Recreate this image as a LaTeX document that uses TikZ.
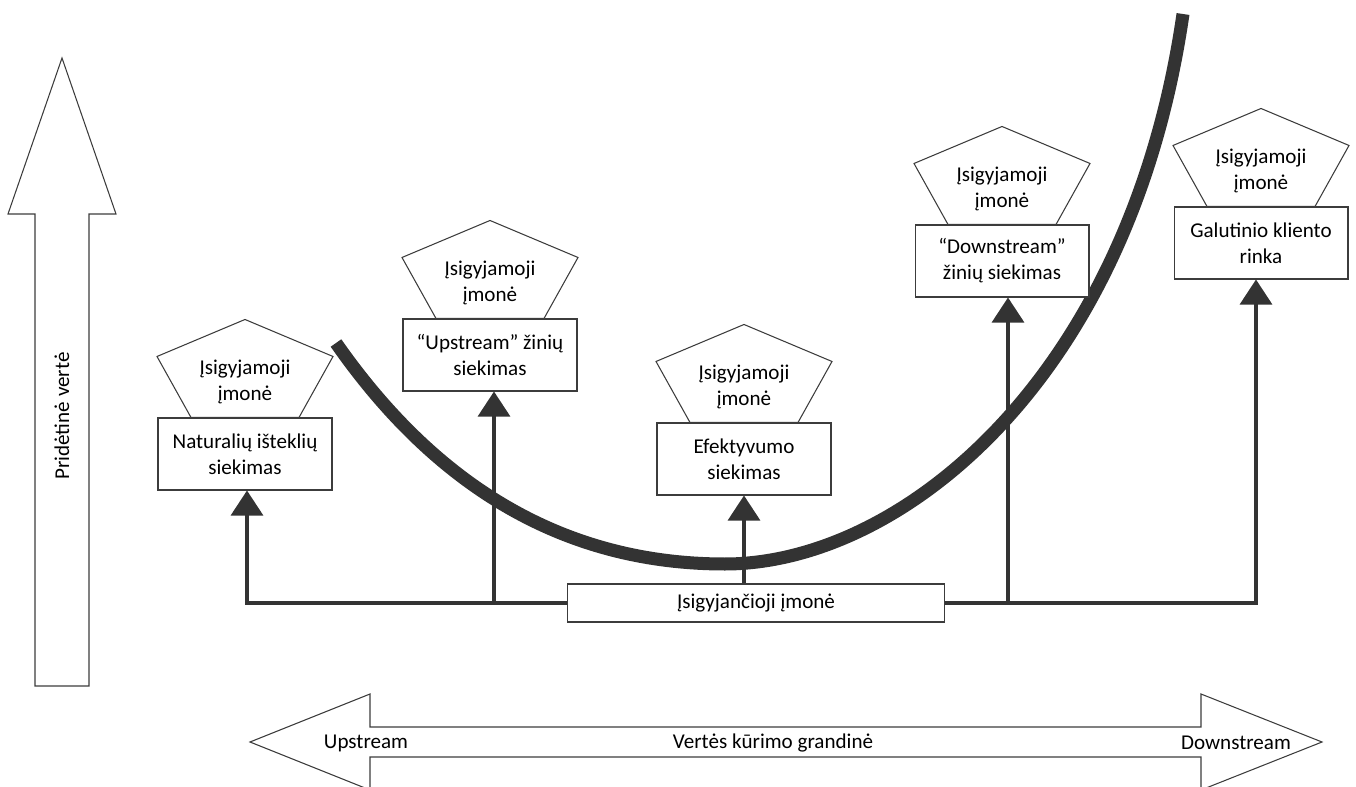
\documentclass[tikz,border=0pt]{standalone}
\usepackage{fontspec}
\setmainfont{Carlito}
\usetikzlibrary{arrows.meta,positioning,calc}
\definecolor{curvegray}{RGB}{51, 51, 51}
\definecolor{edgegray}{RGB}{60, 60, 60}

\begin{document}
\begin{tikzpicture}[
    x=0.02cm, y=-0.02cm,
    every node/.append style={font=\fontsize{12}{14.8}\selectfont, align=center},
    goal/.style={draw=edgegray, fill=white, line width=0.6pt, minimum width=3.48cm, minimum height=1.44cm, inner sep=2pt},
    hub/.style={draw=edgegray, fill=white, line width=0.6pt, minimum width=7.54cm, minimum height=0.76cm},
    penta/.style={draw=edgegray, fill=white, line width=0.6pt},
    bigarrow/.style={draw=edgegray, fill=white, line width=0.6pt},
    arrow/.style={-{Triangle[width=0.64cm, length=0.5cm]}, line width=1.8pt, curvegray},
    ucurve/.style={line width=7.4pt, curvegray}
]
    \useasboundingbox (0,0) rectangle (1356,787);

    % Axes - value and value chain
    \draw[bigarrow] (35,686) -- (35,214) -- (8,214) -- (62,58) -- (116,214) -- (89,214) -- (89,686) -- cycle;
    \node[rotate=90] (value) at (62,416) {Pridėtinė vertė};
    \draw[bigarrow] (250,742) -- (370,694) -- (370,727) -- (1201,727) -- (1201,694) -- (1322,742)
        -- (1201,790) -- (1201,757) -- (370,757) -- (370,790) -- cycle;
    \node (upstream) at (366,743) {Upstream};
    \node (chain) at (773,743) {Vertės kūrimo grandinė};
    \node (downstream) at (1236,743) {Downstream};

    % Smile curve
    \draw[ucurve] (336,343) .. controls (440,492) and (570,564) .. (725,564)
        .. controls (900,564) and (1130,380) .. (1183,14);

    % Nodes - goals
    \node[goal] (natural) at (245,454) {Naturalių išteklių\\siekimas};
    \node[goal] (upknow) at (490,355) {“Upstream” žinių\\siekimas};
    \node[goal] (effic) at (744,459) {Efektyvumo\\siekimas};
    \node[goal] (downknow) at (1002,261) {“Downstream”\\žinių siekimas};
    \node[goal] (market) at (1261,243) {Galutinio kliento\\rinka};

    % Pentagons - acquired companies
    \draw[penta] ($(natural.north)+(-54,0)$) -- ++(-34,-61) -- ++(88,-37) -- ++(88,37) -- ++(-34,61) -- cycle;
    \node (acq1) at ($(natural.north)+(0,-36)$) {Įsigyjamoji\\įmonė};
    \draw[penta] ($(upknow.north)+(-54,0)$) -- ++(-34,-61) -- ++(88,-37) -- ++(88,37) -- ++(-34,61) -- cycle;
    \node (acq2) at ($(upknow.north)+(0,-36)$) {Įsigyjamoji\\įmonė};
    \draw[penta] ($(effic.north)+(-54,0)$) -- ++(-34,-61) -- ++(88,-37) -- ++(88,37) -- ++(-34,61) -- cycle;
    \node (acq3) at ($(effic.north)+(0,-36)$) {Įsigyjamoji\\įmonė};
    \draw[penta] ($(downknow.north)+(-54,0)$) -- ++(-34,-61) -- ++(88,-37) -- ++(88,37) -- ++(-34,61) -- cycle;
    \node (acq4) at ($(downknow.north)+(0,-36)$) {Įsigyjamoji\\įmonė};
    \draw[penta] ($(market.north)+(-54,0)$) -- ++(-34,-61) -- ++(88,-37) -- ++(88,37) -- ++(-34,61) -- cycle;
    \node (acq5) at ($(market.north)+(0,-36)$) {Įsigyjamoji\\įmonė};

    % Acquiring company and arrows
    \node[hub] (hub) at (756,603) {Įsigyjančioji įmonė};
    \coordinate (b2) at (494,603);
    \coordinate (b4) at (1008,603);
    \draw[arrow] (hub.west) -| ($(natural.south)+(2,0)$);
    \draw[arrow] (b2) -- (b2 |- upknow.south);
    \draw[arrow] (hub.north -| effic.south) -- (effic.south);
    \draw[arrow] (b4) -- (b4 |- downknow.south);
    \draw[arrow] (hub.east) -| ($(market.south)+(-5,0)$);
\end{tikzpicture}
\end{document}
